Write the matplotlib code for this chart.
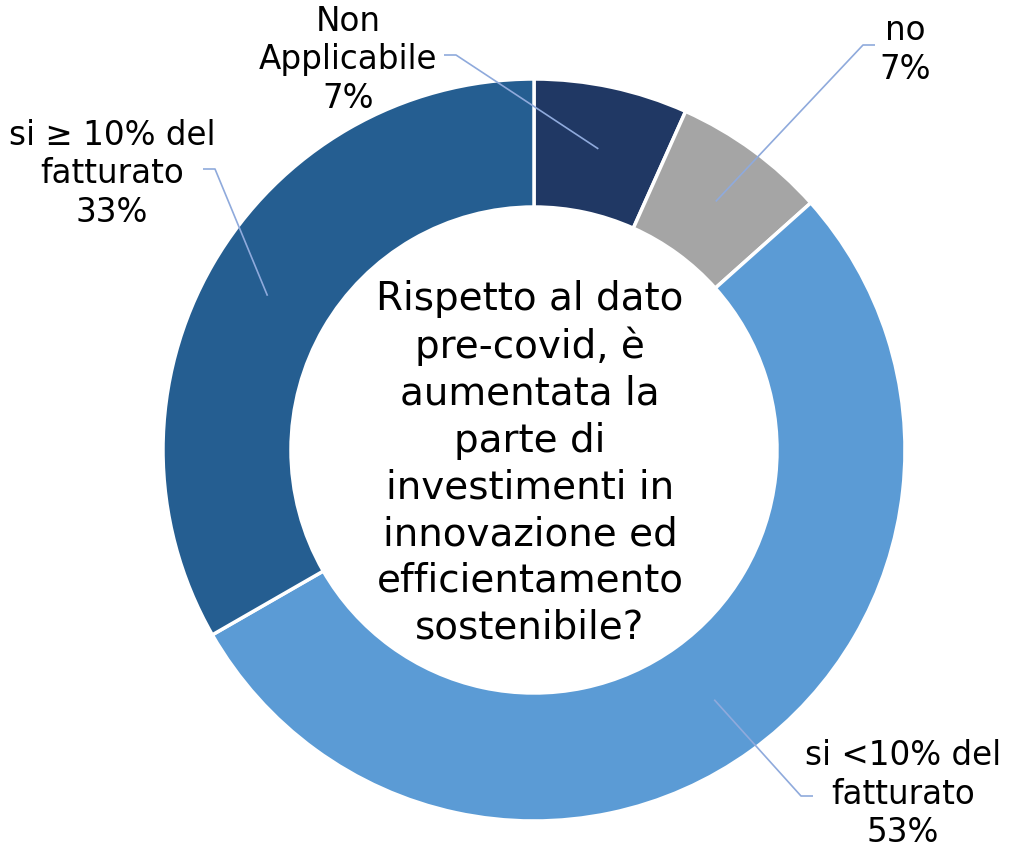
import matplotlib
matplotlib.use("Agg")
import matplotlib.pyplot as plt
import numpy as np

# share of answers, clockwise from the top
labels = ["Non\nApplicabile", "no", "si <10% del\nfatturato", "si \u2265 10% del\nfatturato"]
values = [6.7, 6.7, 53.3, 33.3]
pct_text = ["7%", "7%", "53%", "33%"]
colors = ["#203864", "#A5A5A5", "#5B9BD5", "#255E91"]

center_title = ("Rispetto al dato\npre-covid, \u00e8\naumentata la\nparte di\n"
                "investimenti in\ninnovazione ed\nefficientamento\nsostenibile?")

W, H = 1010, 853
cx, cy, R = 534, 451, 371  # pixel centre and radius of the donut

fig = plt.figure(figsize=(W / 100, H / 100), dpi=100)
ax = fig.add_axes([0, 0, 1, 1])

wedges, _ = ax.pie(values, colors=colors, startangle=90, counterclock=False,
                   radius=1.0, wedgeprops=dict(width=0.345, edgecolor="white", linewidth=2.5))

ax.set_xlim(-cx / R, (W - cx) / R)
ax.set_ylim(-(H - cy) / R, cy / R)
ax.set_aspect("equal")
ax.axis("off")


def px(x, y):
    return (x - cx) / R, (cy - y) / R


# label centre (pixels) and side the leader line leaves from
label_pos = [(348, 60, "right"), (905, 50, "left"), (903, 794, "left"), (112, 174, "right")]
elbow = [(444, 56), (875, 46), (813, 797), (203, 170)]
line_col = "#8FAADC"

for w, lab, pct, (lx, ly, side), (ex, ey) in zip(wedges, labels, pct_text, label_pos, elbow):
    ang = np.deg2rad((w.theta1 + w.theta2) / 2)
    ax_, ay_ = 0.83 * np.cos(ang), 0.83 * np.sin(ang)
    e = px(ex, ey)
    step = 12 / R if side == "right" else -12 / R
    ax.plot([e[0], e[0] + step, ax_], [e[1], e[1], ay_], color=line_col, lw=1.2,
            solid_capstyle="butt", zorder=3)
    tx, ty = px(lx, ly)
    ax.text(tx, ty, lab + "\n" + pct, ha="center", va="center", fontsize=23.5,
            linespacing=1.2, color="black", family="DejaVu Sans")

ax.text(*px(530, 463), center_title, ha="center", va="center", fontsize=28,
        linespacing=1.29, color="black", family="DejaVu Sans")

fig.savefig("out.png", dpi=100)
